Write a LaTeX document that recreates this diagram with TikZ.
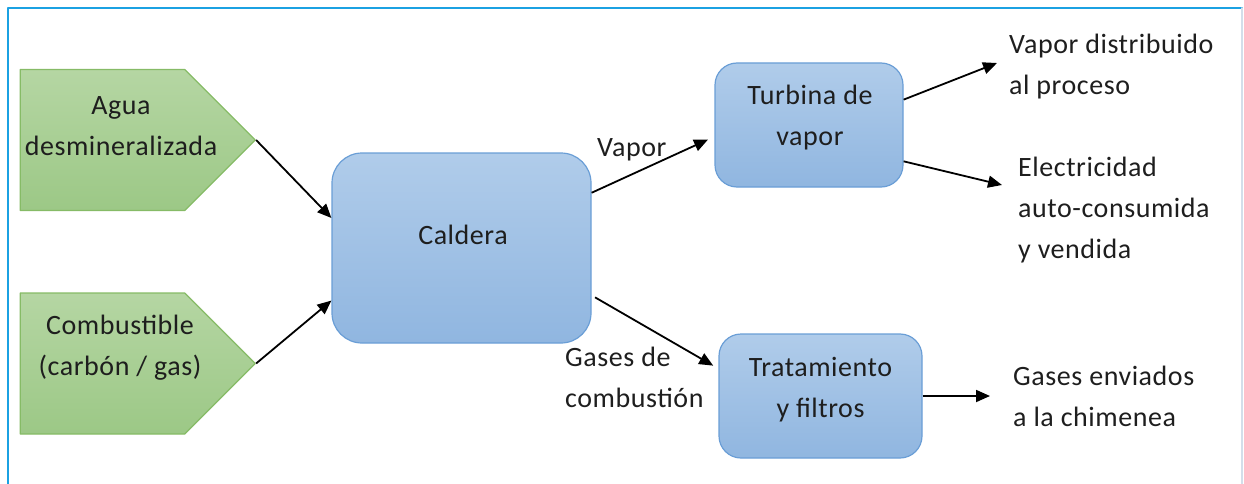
\documentclass[tikz,border=0pt]{standalone}
\usepackage{fontspec}
\setmainfont{Carlito}[LetterSpace=2]
\usetikzlibrary{arrows.meta,shapes.symbols}
\definecolor{framecyan}{HTML}{1BA1E2}
\definecolor{frameside}{HTML}{D3DEEA}
\definecolor{feedtop}{HTML}{B5D6A3}
\definecolor{feedbot}{HTML}{9CC886}
\definecolor{feedline}{HTML}{86BB66}
\definecolor{unittop}{HTML}{B0CCEA}
\definecolor{unitbot}{HTML}{90B6E0}
\definecolor{unitline}{HTML}{6A9ED6}
\definecolor{txtcol}{HTML}{1E1E1E}
\begin{document}
\begin{tikzpicture}[x=1pt,y=-1pt,line cap=round,line join=round,
	font={\fontsize{28pt}{41pt}\selectfont},
	feed/.style={signal,signal to=east,signal pointer angle=90,minimum width=235pt,minimum height=141pt,inner sep=0pt,draw=feedline,line width=1.2pt,top color=feedtop,bottom color=feedbot},
	unit/.style={rectangle,rounded corners=22pt,draw=unitline,line width=1.2pt,top color=unittop,bottom color=unitbot,inner sep=0pt},
	txt/.style={align=center,inner sep=0pt,text=txtcol},
	note/.style={align=left,anchor=west,inner sep=0pt,text=txtcol},
	flow/.style={-{Triangle[length=14pt,width=12pt]},line width=1.8pt,line cap=butt}]
	\useasboundingbox (0,0) rectangle (1244,484);
	\draw[framecyan,line width=2pt] (8,484)--(8,8)--(1242,8);%frame
	\draw[frameside,line width=1.5pt] (1242,8)--(1242,484);
	% inputs
	\node[feed] (agua) at (102.5,140) {};
	\node[txt] (aguatxt) at (121,126) {Agua\\desmineralizada};
	\node[feed] (comb) at (102.5,363.5) {};
	\node[txt] (combtxt) at (120,348) {Combustible\\(carbón / gas)};
	% units
	\node[unit,rounded corners=30pt,minimum width=259pt,minimum height=190pt] (caldera) at (461.5,248) {};
	\node[txt] (calderatxt) at (463,235) {Caldera};
	\node[unit,minimum width=188pt,minimum height=124pt] (turbina) at (809,125) {};
	\node[txt] (turbinatxt) at (810,118) {Turbina de\\vapor};
	\node[unit,minimum width=203pt,minimum height=124pt] (tratam) at (820.5,396) {};
	\node[txt] (tratamtxt) at (820.5,390) {Tratamiento\\y filtros};
	% outputs
	\node[note,anchor=base west] (vaportxt) at (597,157) {Vapor};
	\node[note] (gasestxt) at (565,377.5) {Gases de\\combustión};
	\node[note] (procesotxt) at (1009,66.5) {Vapor distribuido\\al proceso};
	\node[note] (electxt) at (1018,210) {Electricidad\\auto-consumida\\y vendida};
	\node[note] (chimtxt) at (1013,396) {Gases enviados\\a la chimenea};
	\coordinate (procesoin) at (997,63);
	\coordinate (elecin) at (1002,185);
	\coordinate (chimin) at (990,396);
	% arrows
	\draw[flow] (agua.east)--(caldera.167);
	\draw[flow] (comb.east)--(caldera.202);
	\draw[flow,shorten >=7pt] (caldera.23)--(turbina.187);
	\draw[flow,shorten <=4pt,shorten >=6pt] (caldera.-20)--(tratam.165);
	\draw[flow] (turbina.15)--(procesoin);
	\draw[flow] (turbina.-21)--(elecin);
	\draw[flow] (tratam.east)--(chimin);
\end{tikzpicture}
\end{document}
